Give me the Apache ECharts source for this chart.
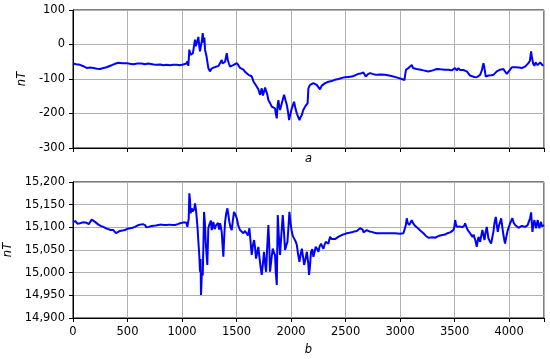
<!DOCTYPE html>
<html>
<head>
<meta charset="utf-8">
<script src="https://cdn.jsdelivr.net/npm/echarts@6/dist/echarts.min.js"></script>
<style>html,body{margin:0;padding:0;background:#fff;}#c{width:550px;height:359px;}</style>
</head>
<body>
<div id="c"></div>
<script>
// Panel a: sample index and field (nT)
var topX = [0,30,64,95,125,160,187,220,248,280,309,330,355,385,416,450,492,520,553,590,630,660,690,706,740,767,800,830,859,890,920,951,980,1010,1028,1040,1049,1058,1067,1078,1089,1100,1110,1119,1127,1134,1142,1150,1158,1165,1175,1182,1190,1198,1205,1211,1225,1241,1256,1270,1287,1305,1320,1335,1349,1364,1372,1379,1395,1410,1420,1430,1440,1455,1470,1485,1502,1517,1532,1548,1563,1580,1595,1609,1625,1639,1655,1670,1685,1700,1716,1731,1742,1752,1762,1771,1782,1792,1808,1823,1838,1853,1860,1869,1877,1884,1892,1899,1915,1936,1948,1961,1972,1982,1995,2007,2018,2028,2040,2053,2065,2077,2088,2099,2112,2129,2137,2145,2152,2159,2169,2174,2191,2205,2220,2235,2250,2266,2280,2297,2312,2327,2342,2358,2373,2388,2405,2419,2435,2450,2475,2495,2525,2557,2590,2618,2640,2664,2675,2685,2705,2725,2755,2786,2820,2862,2900,2939,2975,3015,3040,3048,3055,3065,3077,3090,3107,3118,3131,3150,3168,3190,3214,3240,3260,3275,3300,3336,3370,3413,3445,3474,3490,3505,3520,3535,3548,3560,3580,3596,3612,3627,3642,3658,3680,3703,3718,3734,3750,3760,3765,3772,3786,3810,3835,3856,3870,3887,3900,3917,3930,3948,3962,3979,3995,4009,4025,4040,4055,4070,4090,4116,4130,4147,4160,4177,4190,4202,4208,4214,4220,4232,4242,4253,4262,4275,4285,4293,4305,4315,4320];
var topY = [-55,-57,-59,-63,-68,-67,-68,-70,-71,-68,-66,-63,-60,-56,-53,-54,-54,-56,-57,-55,-55,-57,-55,-58,-58,-59,-58,-60,-59,-60,-59,-59,-60,-58,-57,-55,-49,-62,-15,-30,-35,-25,-20,14,-5,-10,0,22,-5,-20,0,10,33,5,20,-15,-35,-68,-78,-70,-68,-65,-63,-62,-59,-45,-55,-59,-50,-25,-45,-55,-64,-62,-60,-57,-54,-60,-68,-65,-73,-80,-85,-88,-86,-92,-107,-112,-122,-130,-146,-127,-148,-151,-125,-130,-145,-161,-170,-180,-178,-185,-200,-214,-175,-161,-180,-190,-170,-146,-160,-175,-195,-219,-200,-185,-175,-166,-185,-200,-210,-219,-210,-204,-190,-180,-178,-185,-170,-127,-132,-117,-117,-112,-115,-117,-122,-130,-120,-117,-112,-114,-108,-103,-106,-107,-102,-101,-100,-98,-96,-95,-94,-93,-89,-85,-84,-81,-86,-93,-86,-83,-86,-88,-87,-88,-90,-93,-96,-100,-103,-85,-73,-72,-68,-66,-59,-68,-73,-71,-71,-73,-75,-77,-78,-78,-75,-71,-72,-73,-73,-75,-72,-68,-75,-68,-74,-78,-74,-73,-78,-83,-90,-95,-94,-95,-92,-88,-75,-60,-54,-65,-93,-90,-89,-88,-83,-78,-80,-73,-76,-71,-78,-85,-80,-73,-66,-62,-66,-68,-67,-68,-65,-64,-60,-54,-48,-20,-35,-45,-55,-62,-52,-49,-60,-59,-52,-54,-60,-59,-58];

// Panel b: sample index and field (nT)
var botX = [0,20,40,64,90,125,145,156,171,185,202,218,233,255,278,300,324,345,370,385,394,410,431,455,477,500,523,545,569,590,615,640,661,672,682,695,706,720,737,760,783,810,835,859,885,910,936,960,982,1000,1015,1028,1040,1049,1055,1061,1067,1073,1079,1089,1097,1104,1112,1119,1127,1134,1142,1150,1158,1165,1170,1174,1182,1190,1196,1202,1210,1217,1225,1232,1237,1241,1249,1257,1265,1272,1280,1287,1300,1310,1318,1330,1340,1349,1357,1364,1372,1379,1387,1395,1405,1416,1425,1434,1445,1456,1466,1477,1490,1502,1515,1532,1548,1563,1578,1593,1605,1618,1628,1639,1650,1661,1670,1679,1690,1700,1712,1722,1731,1742,1752,1762,1771,1780,1792,1800,1807,1820,1832,1842,1853,1860,1869,1874,1878,1888,1899,1910,1924,1935,1945,1956,1967,1976,1985,1995,2007,2018,2028,2040,2053,2065,2077,2088,2099,2110,2120,2132,2145,2158,2165,2172,2183,2195,2205,2215,2226,2240,2251,2262,2275,2285,2297,2308,2318,2330,2343,2350,2358,2372,2388,2403,2419,2440,2465,2488,2511,2535,2557,2580,2603,2618,2633,2649,2657,2664,2680,2694,2718,2740,2765,2786,2820,2862,2900,2954,3000,3031,3046,3053,3061,3070,3083,3095,3107,3118,3131,3150,3168,3190,3214,3237,3260,3275,3300,3321,3345,3367,3390,3413,3435,3459,3475,3489,3497,3505,3512,3520,3535,3548,3560,3570,3581,3590,3596,3610,3621,3635,3642,3655,3664,3674,3682,3692,3703,3712,3719,3727,3734,3745,3755,3765,3774,3785,3795,3803,3810,3822,3835,3846,3856,3866,3878,3887,3896,3902,3908,3918,3927,3938,3948,3956,3963,3975,3988,4000,4009,4020,4030,4042,4055,4070,4086,4100,4116,4130,4147,4160,4171,4177,4183,4192,4202,4208,4214,4222,4232,4240,4248,4255,4263,4270,4278,4285,4293,4301,4309,4315,4320];
var botY = [15111,15114,15108,15109,15111,15110,15107,15108,15117,15113,15112,15110,15106,15103,15101,15098,15096,15094,15094,15090,15087,15091,15092,15093,15094,15097,15098,15099,15101,15104,15106,15107,15105,15100,15096,15101,15105,15103,15100,15104,15105,15106,15105,15105,15106,15105,15105,15107,15109,15106,15111,15115,15110,15101,15110,15118,15175,15160,15131,15142,15135,15131,15140,15153,15140,15123,15100,15068,15040,15002,15030,14951,15000,14994,15060,15134,15110,15068,15040,15017,15060,15098,15105,15109,15115,15094,15100,15112,15096,15104,15101,15110,15095,15109,15100,15090,15060,15035,15080,15112,15130,15142,15128,15112,15100,15094,15115,15134,15128,15120,15105,15094,15098,15087,15092,15094,15082,15098,15070,15039,15060,15072,15055,15031,15045,15057,15030,15010,14995,15020,15046,15020,15002,15050,15105,15060,15002,15030,15053,15045,15039,15000,14973,15060,15127,15080,15039,15080,15127,15090,15050,15060,15068,15100,15134,15110,15090,15080,15076,15070,15061,15040,15024,15040,15053,15035,15017,15030,15046,15020,14995,15010,15046,15052,15035,15045,15057,15052,15046,15058,15064,15058,15053,15062,15068,15066,15064,15072,15079,15074,15070,15074,15076,15080,15083,15085,15087,15088,15089,15091,15092,15095,15098,15101,15095,15089,15093,15094,15091,15090,15088,15087,15087,15087,15087,15087,15086,15087,15087,15105,15120,15110,15105,15110,15116,15110,15105,15101,15098,15092,15087,15081,15077,15079,15078,15077,15080,15082,15083,15084,15087,15089,15092,15094,15100,15116,15108,15101,15098,15102,15105,15100,15098,15104,15109,15100,15094,15090,15087,15083,15079,15084,15087,15070,15057,15070,15079,15074,15068,15082,15094,15082,15072,15090,15101,15088,15076,15070,15064,15078,15090,15110,15123,15105,15090,15098,15105,15112,15120,15100,15083,15072,15064,15080,15094,15102,15109,15115,15120,15110,15105,15101,15099,15102,15103,15100,15101,15104,15105,15110,15112,15120,15133,15110,15090,15105,15116,15105,15098,15108,15116,15105,15098,15106,15112,15102,15098,15104,15105];

var xTicks = [0,500,1000,1500,2000,2500,3000,3500,4000];
var topYTicks = [-300,-200,-100,0,100];
var botYTicks = [14900,14950,15000,15050,15100,15150,15200];

function pairs(xs, ys){ var r=[]; for(var i=0;i<xs.length;i++) r.push([xs[i], ys[i]]); return r; }
function commas(v){ return String(v).replace(/\B(?=(\d{3})+(?!\d))/g, ','); }

var FONT = 'DejaVu Sans';
var chart = echarts.init(document.getElementById('c'), null, {renderer:'canvas'});
var gridLine = {show:true, lineStyle:{color:'#b0b0b0', width:1}};
function xAxisCfg(idx, showLabels, name, gap){
  return {
    type:'value', gridIndex:idx, min:0, max:4320, interval:500,
    axisLine:{show:true, onZero:false, lineStyle:{color:'#000', width:1}},
    axisTick:{show:true, inside:false, length:4, lineStyle:{color:'#000'}},
    axisLabel:{show:showLabels, color:'#000', fontFamily:FONT, fontSize:11.5, margin:8,
      formatter:function(v){ return xTicks.indexOf(v) >= 0 ? String(v) : ''; }},
    splitLine:gridLine,
    name:name, nameLocation:'middle', nameGap:gap,
    nameTextStyle:{color:'#000', fontFamily:FONT, fontSize:11.5, fontStyle:'italic'}
  };
}
function yAxisCfg(idx, ticks, gap, fmt){
  return {
    type:'value', gridIndex:idx, min:ticks[0], max:ticks[ticks.length-1], interval:ticks[1]-ticks[0],
    axisLine:{show:true, lineStyle:{color:'#000', width:1}},
    axisTick:{show:true, inside:false, length:4, lineStyle:{color:'#000'}},
    axisLabel:{color:'#000', fontFamily:FONT, fontSize:11.5, margin:8, formatter:fmt},
    splitLine:gridLine,
    name:'nT', nameLocation:'middle', nameGap:gap, nameRotate:90,
    nameTextStyle:{color:'#000', fontFamily:FONT, fontSize:11.5, fontStyle:'italic'}
  };
}
chart.setOption({
  animation:false,
  backgroundColor:'#fff',
  grid:[
    {left:73, right:6, top:10, height:138, show:true, borderColor:'#000', borderWidth:1, outerBoundsMode:'none', containLabel:false},
    {left:73, right:6, top:182, height:136, show:true, borderColor:'#000', borderWidth:1, outerBoundsMode:'none', containLabel:false}
  ],
  xAxis:[ xAxisCfg(0, false, 'a', 5), xAxisCfg(1, true, 'b', 26) ],
  yAxis:[
    yAxisCfg(0, topYTicks, 38, function(v){ return String(v); }),
    yAxisCfg(1, botYTicks, 53, function(v){ return commas(v); })
  ],
  series:[
    {type:'line', xAxisIndex:0, yAxisIndex:0, data:pairs(topX, topY), showSymbol:false, symbol:'none',
     lineStyle:{color:'#0000ff', width:2}, z:3},
    {type:'line', xAxisIndex:1, yAxisIndex:1, data:pairs(botX, botY), showSymbol:false, symbol:'none',
     lineStyle:{color:'#0000ff', width:2}, z:3}
  ]
});
</script>
</body>
</html>
